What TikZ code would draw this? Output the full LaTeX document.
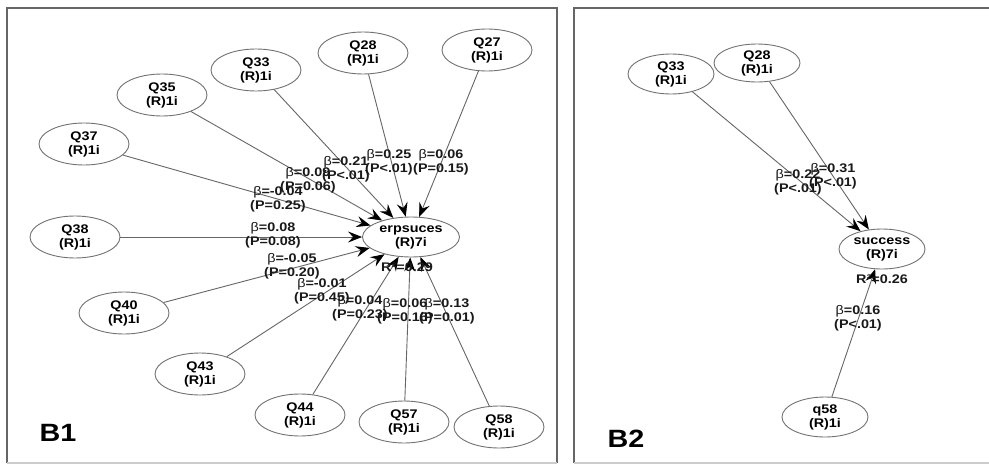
\documentclass[tikz,border=0pt]{standalone}
\usepackage{fontspec}
\setmainfont{Liberation Sans}[FakeStretch=1.15]
\usetikzlibrary{shapes.geometric,arrows.meta}
\newcommand\betasym{{\mdseries β}}
\begin{document}
\begin{tikzpicture}[x=1pt,y=-1pt,
  latent/.style={ellipse,draw=black!55,line width=0.9pt,fill=white,
    minimum width=90pt,minimum height=42pt,inner sep=0pt,align=center,
    font=\fontsize{12.5}{14}\selectfont\bfseries},
  small/.style={latent,minimum width=86pt,minimum height=40pt},
  coef/.style={align=center,inner sep=0pt,text=black!90,
    font=\fontsize{12.5}{14}\selectfont\bfseries},
  path/.style={draw=black!60,line width=0.9pt,
    -{Stealth[length=14pt,width=11pt,inset=5pt,color=black]}},
  frame/.style={draw=black!60,line width=1.6pt},
  framebase/.style={draw=black!20,line width=1.6pt},
  panel/.style={font=\fontsize{25}{25}\selectfont\bfseries,inner sep=0pt}]
\useasboundingbox (0,0) rectangle (989,466);
\fill[white] (0,0) rectangle (989,466);

% panel frames
\draw[frame] (7,463) -- (7,8) -- (557,8) -- (557,463);
\draw[framebase] (7,463) -- (557,463);
\draw[frame] (574,463) -- (574,8) -- (989,8);
\draw[framebase] (574,463) -- (989,463);

% ---------- B1 ----------
\node[latent,minimum width=97pt,minimum height=40pt] (erp) at (411,237) {erpsuces\\(R)7i};
\node[latent] (q27) at (487,50)  {Q27\\(R)1i};
\node[latent] (q28) at (363,53)  {Q28\\(R)1i};
\node[latent] (q33) at (256,70)  {Q33\\(R)1i};
\node[latent] (q35) at (162,95)  {Q35\\(R)1i};
\node[latent] (q37) at (84,144)  {Q37\\(R)1i};
\node[latent] (q38) at (75,237)  {Q38\\(R)1i};
\node[latent] (q40) at (124,313) {Q40\\(R)1i};
\node[latent] (q43) at (200,374) {Q43\\(R)1i};
\node[latent] (q44) at (300,415) {Q44\\(R)1i};
\node[latent] (q57) at (404,422) {Q57\\(R)1i};
\node[latent] (q58) at (499,427) {Q58\\(R)1i};

\foreach \src in {q27,q28,q33,q35,q37,q38,q40,q43,q44,q57,q58}
  \draw[path] (\src) -- (erp);

\node[coef] (c27) at (441,162) {\betasym=0.06\\(P=0.15)};
\node[coef] (c28) at (389,162) {\betasym=0.25\\(P<.01)};
\node[coef] (c33) at (346,169) {\betasym=0.21\\(P<.01)};
\node[coef] (c35) at (308,180) {\betasym=0.09\\(P=0.06)};
\node[coef] (c37) at (278,199) {\betasym=-0.04\\(P=0.25)};
\node[coef] (c38) at (273,235) {\betasym=0.08\\(P=0.08)};
\node[coef] (c40) at (292,266) {\betasym=-0.05\\(P=0.20)};
\node[coef] (c43) at (322,291) {\betasym=-0.01\\(P=0.45)};
\node[coef] (c44) at (360,308) {\betasym=0.04\\(P=0.23)};
\node[coef] (c57) at (405,311) {\betasym=0.06\\(P=0.16)};
\node[coef] (c58) at (447,311) {\betasym=0.13\\(P=0.01)};
\node[coef] (r1)  at (407,267) {R²=0.29};

\node[panel] (b1) at (58,433) {B1};

% ---------- B2 ----------
\node[small] (suc)  at (882,249) {success\\(R)7i};
\node[small] (p33)  at (671,74)  {Q33\\(R)1i};
\node[small,minimum height=38pt] (p28) at (757,63) {Q28\\(R)1i};
\node[small] (p58)  at (825,417) {q58\\(R)1i};

\draw[path] (p33) -- (suc);
\draw[path] (p28) -- (suc);
\draw[path] (p58) -- (suc);

\node[coef] (d33) at (798,182) {\betasym=0.22\\(P<.01)};
\node[coef] (d28) at (833,176) {\betasym=0.31\\(P<.01)};
\node[coef] (d58) at (858,318) {\betasym=0.16\\(P<.01)};
\node[coef] (r2)  at (882,279) {R²=0.26};

\node[panel] (b2) at (626,439) {B2};
\end{tikzpicture}
\end{document}
